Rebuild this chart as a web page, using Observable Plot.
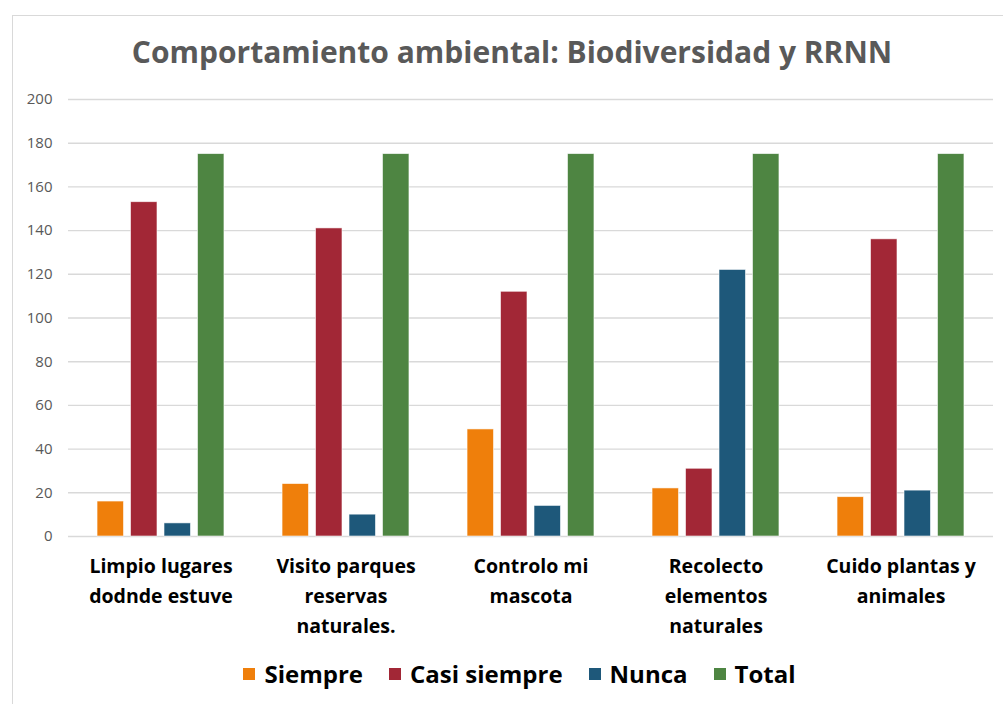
<!DOCTYPE html>
<html>
<head>
<meta charset="utf-8">
<script src="https://cdn.jsdelivr.net/npm/d3@7"></script>
<script src="https://cdn.jsdelivr.net/npm/@observablehq/plot@0.6"></script>
<style>
  html, body { margin: 0; padding: 0; background: #ffffff; }
  body { width: 1003px; height: 704px; position: relative; overflow: hidden; font-family: "Open Sans", Lato, sans-serif; }
  #frame { position: absolute; left: 12px; top: 15px; width: 1000px; height: 700px; border: 1px solid #d9d9d9; box-sizing: border-box; }
  #title { position: absolute; left: 12px; width: 1000px; top: 31px; text-align: center; font-size: 30px; font-weight: 700; color: #595959; }
  #chart { position: absolute; left: 0; top: 80px; }
  #legend { position: absolute; left: 0; width: 1003px; top: 657px; display: flex; justify-content: center; padding-left: 36px; box-sizing: border-box; font-size: 24px; font-weight: 700; color: #000; }
  .item { display: flex; align-items: center; margin: 0 13px; }
  .sw { width: 12px; height: 12px; margin-right: 9px; }
  svg [aria-label="fx-axis tick label"] text { font-weight: 700; }
</style>
</head>
<body>
<div id="frame"></div>
<div id="title">Comportamiento ambiental: Biodiversidad y RRNN</div>
<div id="chart"></div>
<div id="legend"></div>
<script>
const categories = ["Limpio lugares dodnde estuve", "Visito parques reservas naturales.", "Controlo mi mascota", "Recolecto elementos naturales", "Cuido plantas y animales"];
const categoryLabels = ["Limpio lugares\ndodnde estuve", "Visito parques\nreservas\nnaturales.", "Controlo mi\nmascota", "Recolecto\nelementos\nnaturales", "Cuido plantas y\nanimales"];
const series = ["Siempre", "Casi siempre", "Nunca", "Total"];
const siempre = [16, 24, 49, 22, 18];
const casiSiempre = [153, 141, 112, 31, 136];
const nunca = [6, 10, 14, 122, 21];
const total = [175, 175, 175, 175, 175];
const yTicks = [0, 20, 40, 60, 80, 100, 120, 140, 160, 180, 200];
const colors = ["#EF7F0B", "#A22736", "#1E587A", "#4E8542"];

const seriesValues = [siempre, casiSiempre, nunca, total];
const data = categories.flatMap((c, i) => series.map((s, j) => ({category: c, serie: s, value: seriesValues[j][i]})));

const W = 1003, ML = 68, MR = 10;
const fxPadInner = 0.314;
const step = (W - ML - MR) / categories.length;
const halfGap = step * fxPadInner / 2;

const chart = Plot.plot({
  width: W,
  height: 566,
  marginLeft: ML,
  marginRight: MR,
  marginTop: 19,
  marginBottom: 110,
  style: {fontFamily: "'Open Sans', Lato, sans-serif", background: "transparent"},
  fx: {domain: categories, paddingInner: fxPadInner, paddingOuter: fxPadInner / 2, round: false, axis: null, label: null},
  x: {domain: series, paddingInner: 0.21, paddingOuter: 0, round: false, axis: null},
  y: {domain: [0, 200], axis: null},
  color: {domain: series, range: colors},
  marks: [
    Plot.ruleY(yTicks, {stroke: "#d9d9d9", strokeWidth: 1.4, insetLeft: -halfGap, insetRight: -halfGap}),
    Plot.barY(data, {fx: "category", x: "serie", y: "value", fill: "serie", stroke: "#ffffff", strokeWidth: 0.8, strokeOpacity: 0.7}),
    Plot.axisY(yTicks, {tickSize: 0, tickPadding: 16 + halfGap, fontSize: 15, fill: "#595959", label: null, tickFormat: d => String(d)}),
    Plot.axisFx({anchor: "bottom", tickSize: 0, tickPadding: 15, fontSize: 19.5, fontWeight: "bold", fill: "#000000", lineHeight: 1.54, label: null, tickFormat: d => categoryLabels[categories.indexOf(d)]})
  ]
});
document.getElementById("chart").appendChild(chart);

const legend = document.getElementById("legend");
series.forEach((s, i) => {
  const item = document.createElement("div");
  item.className = "item";
  const sw = document.createElement("span");
  sw.className = "sw";
  sw.style.background = colors[i];
  const t = document.createElement("span");
  t.textContent = s;
  item.appendChild(sw);
  item.appendChild(t);
  legend.appendChild(item);
});
</script>
</body>
</html>
